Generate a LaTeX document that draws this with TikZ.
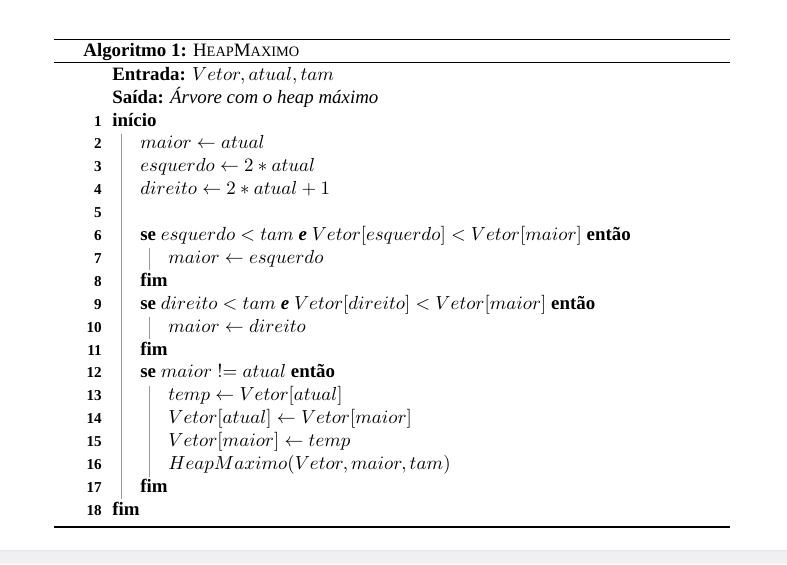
\documentclass[tikz,border=0pt]{standalone}
\usepackage{fontspec}
\setmainfont{Liberation Serif}
\definecolor{bandgray}{HTML}{F0F0F2}
\definecolor{bandedge}{HTML}{E4E4EA}
\newcommand{\fakesc}[1]{{\fontsize{7.6}{9}\selectfont #1}}
\tikzset{
  rulethick/.style={line width=0.8pt},
  rulethin/.style={line width=0.45pt},
  blockbar/.style={line width=0.5pt, draw=black!40},
  lineno/.style={anchor=base east, inner sep=0pt, font=\footnotesize\bfseries},
  codeline/.style={anchor=base west, inner sep=0pt},
}
\begin{document}
\begin{tikzpicture}[x=0.529pt,y=-0.529pt,font=\normalsize,line cap=butt]
\def \xl{54}
\def \xr{730}
\def \yone{126}
\def \ystep{22.9}
\useasboundingbox (0,0) rectangle (787,564);
% faixa cinza no rodape
\fill[bandgray] (0,550) rectangle (787,564);
\draw[bandedge,line width=0.4pt] (0,550) -- (787,550);
% regras do algoritmo
\draw[rulethick] (\xl,39.3) -- (\xr,39.3);
\draw[rulethin] (\xl,62.7) -- (\xr,62.7);
\draw[rulethick] (\xl,527) -- (\xr,527);
\node[codeline] (caption) at (83,56) {\textbf{Algoritmo 1:} H\fakesc{EAP}M\fakesc{AXIMO}};
\node[codeline] (entrada) at (112,{\yone-2*\ystep}) {\textbf{Entrada:} $Vetor, atual, tam$};
\node[codeline] (saida) at (112,{\yone-\ystep}) {\textbf{Saída:} \textit{Árvore com o heap máximo}};
% numeros das linhas
\foreach \k in {1,...,18}{\node[lineno] (num\k) at (102,{\yone+(\k-1)*\ystep}) {\k};}
% linhas do codigo
\foreach \k/\l/\t in {1/0/{\textbf{início}},
  2/1/{$maior \leftarrow atual$},
  3/1/{$esquerdo \leftarrow 2*atual$},
  4/1/{$direito \leftarrow 2*atual+1$},
  5/1/{},
  6/1/{\textbf{se} $esquerdo < tam$ \textbf{\textit{e}} $Vetor[esquerdo] < Vetor[maior]$ \textbf{então}},
  7/2/{$maior \leftarrow esquerdo$},
  8/1/{\textbf{fim}},
  9/1/{\textbf{se} $direito < tam$ \textbf{\textit{e}} $Vetor[direito] < Vetor[maior]$ \textbf{então}},
  10/2/{$maior \leftarrow direito$},
  11/1/{\textbf{fim}},
  12/1/{\textbf{se} $maior \mathrel{!{=}} atual$ \textbf{então}},
  13/2/{$temp \leftarrow Vetor[atual]$},
  14/2/{$Vetor[atual] \leftarrow Vetor[maior]$},
  15/2/{$Vetor[maior] \leftarrow temp$},
  16/2/{$HeapMaximo(Vetor, maior, tam)$},
  17/1/{\textbf{fim}},
  18/0/{\textbf{fim}}}{\node[codeline] (line\k) at ({112+28*\l},{\yone+(\k-1)*\ystep}) {\strut\t};}
% barras dos blocos
\foreach \a/\b/\l in {2/17/0,7/7/1,10/10/1,13/16/1}{
  \draw[blockbar] ({121+28*\l},{\yone+(\a-1)*\ystep-15}) -- ({121+28*\l},{\yone+(\b-1)*\ystep+7});}
\end{tikzpicture}
\end{document}
